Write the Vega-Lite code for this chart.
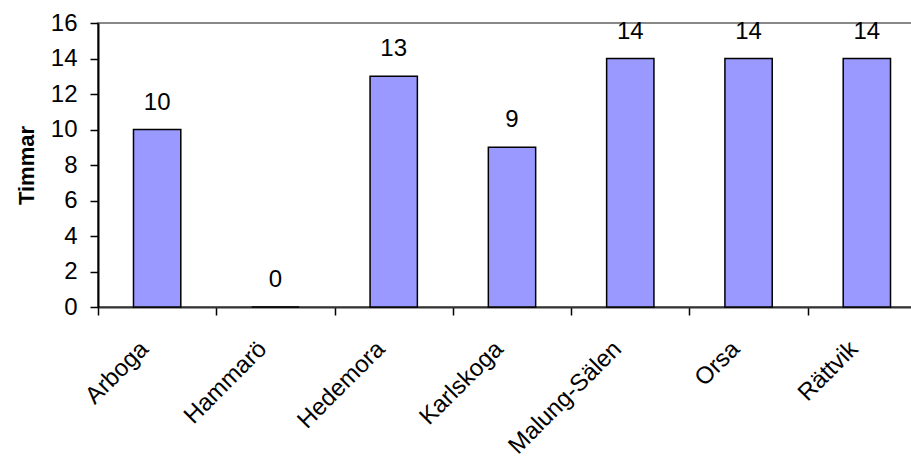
{
  "$schema": "https://vega.github.io/schema/vega-lite/v6.json",
  "autosize": "none",
  "width": 828,
  "height": 284,
  "padding": {"left": 98, "top": 23, "right": 0, "bottom": 152},
  "background": "white",
  "config": {
    "view": {"stroke": "#888888", "strokeWidth": 2},
    "font": "Liberation Sans"
  },
  "data": {
    "values": [
      {"kommun": "Arboga", "timmar": 10},
      {"kommun": "Hammarö", "timmar": 0},
      {"kommun": "Hedemora", "timmar": 13},
      {"kommun": "Karlskoga", "timmar": 9},
      {"kommun": "Malung-Sälen", "timmar": 14},
      {"kommun": "Orsa", "timmar": 14},
      {"kommun": "Rättvik", "timmar": 14}
    ]
  },
  "encoding": {
    "x": {
      "field": "kommun",
      "type": "nominal",
      "sort": null,
      "scale": {"paddingInner": 0, "paddingOuter": 0},
      "axis": {
        "title": null,
        "labelAngle": -45,
        "labelAlign": "right",
        "labelBaseline": "middle",
        "labelFontSize": 24,
        "labelColor": "black",
        "labelPadding": 30,
        "labelOffset": -13,
        "tickBand": "extent",
        "tickSize": 8,
        "tickColor": "black",
        "tickWidth": 1.5,
        "domainColor": "#333333",
        "domainWidth": 2
      }
    },
    "y": {
      "field": "timmar",
      "type": "quantitative",
      "scale": {"domain": [0, 16], "nice": false},
      "axis": {
        "title": "Timmar",
        "titleFontSize": 22,
        "titleFontWeight": "bold",
        "titleColor": "black",
        "titlePadding": 12,
        "values": [0, 2, 4, 6, 8, 10, 12, 14, 16],
        "grid": false,
        "labelFontSize": 24,
        "labelColor": "black",
        "labelPadding": 13,
        "tickSize": 8,
        "tickColor": "black",
        "tickWidth": 1.5,
        "domainColor": "black",
        "domainWidth": 2
      }
    }
  },
  "layer": [
    {
      "mark": {"type": "bar", "color": "#9999FF", "stroke": "black", "strokeWidth": 1.5, "width": {"band": 0.4}}
    },
    {
      "mark": {"type": "text", "fontSize": 24, "baseline": "alphabetic", "dy": -20, "color": "black"},
      "encoding": {"text": {"field": "timmar", "type": "quantitative"}}
    }
  ]
}
